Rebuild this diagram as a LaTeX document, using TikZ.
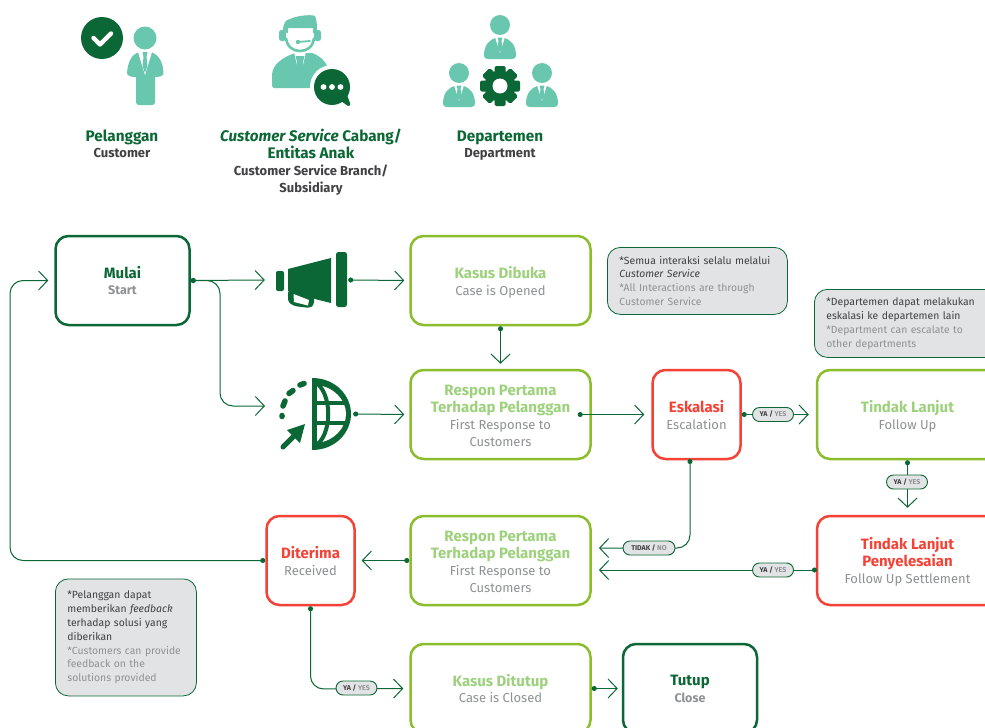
\documentclass[tikz,border=0pt]{standalone}
\usepackage{fontspec}
\setmainfont{Fira Sans}
\usetikzlibrary{arrows.meta}
\definecolor{dkgreen}{HTML}{0B6735}
\definecolor{teal}{HTML}{6AC7AF}
\definecolor{lime}{HTML}{8BBD2C}
\definecolor{limetxt}{HTML}{9DD17C}
\definecolor{redbox}{HTML}{F44336}
\definecolor{graytxt}{HTML}{8F9192}
\definecolor{notebg}{HTML}{E1E3E4}
\definecolor{inktxt}{HTML}{414042}
\newcommand{\lowby}{1.3pt}
\newcommand{\dnt}[1]{\raisebox{-\lowby}[\height][\depth]{#1}}
\newcommand{\ttl}[2]{\dnt{\fontsize{15}{17}\selectfont\bfseries\color{#1}#2}}
\newcommand{\sbt}[1]{\dnt{\fontsize{13}{17}\selectfont\color{graytxt}#1}}
\newcommand{\sbb}[1]{\dnt{\fontsize{12.5}{17}\selectfont\bfseries\color{graytxt}#1}}
\newcommand{\hdt}[1]{{\fontsize{15.3}{17}\selectfont\bfseries\color{dkgreen}#1}}
\newcommand{\hds}[1]{{\fontsize{13}{17}\selectfont\bfseries\color{inktxt}#1}}
\tikzset{
  flow/.style={draw,rounded corners=13,line width=2.5,fill=white,minimum width=#1,minimum height=89,inner sep=0,align=center,font=\fontsize{13}{17}\selectfont},
  limebox/.style={flow=#1,draw=lime},
  redflow/.style={flow=#1,draw=redbox},
  greenbox/.style={flow=#1,draw=dkgreen},
  nolow/.style={execute at begin node={\def\lowby{0pt}}},
  note/.style={draw=dkgreen,line width=0.8,fill=notebg,rounded corners=13,inner xsep=12,inner ysep=0,align=left,font=\fontsize{10.4}{13.9}\selectfont,text=inktxt},
  conn/.style={draw=dkgreen,line width=1,rounded corners=13,{Circle[length=5,width=5]}-{Straight Barb[length=9,width=19,line width=1]}},
  pill/.style={draw=dkgreen,line width=0.9,fill=notebg,rounded corners=7,minimum width=41,minimum height=14,inner sep=0,font=\fontsize{7}{8}\selectfont\bfseries},
  iconbox/.style={inner sep=0,minimum width=#1,minimum height=55},
  hdr/.style={align=center,inner sep=0,font=\fontsize{13}{17}\selectfont},
  bust/.pic={
    \fill[teal] (0,0) circle (10);
    \fill[teal] (-16,31) .. controls (-16,19) and (-10,15) .. (-5,13) -- (5,13) .. controls (10,15) and (16,19) .. (16,31) .. controls (16,33) and (14,34) .. (12,34) -- (-12,34) .. controls (-14,34) and (-16,33) .. (-16,31) -- cycle;
    \fill[white] (-5,12) -- (0,28) -- (5,12) -- cycle;
    \fill[teal] (-2.5,12.5) -- (2.5,12.5) -- (1.5,16) -- (2.5,23) -- (0,27) -- (-2.5,23) -- (-1.5,16) -- cycle;
  }
}
\newcommand{\pilltxt}[2]{{\color{inktxt}#1 /} {\color{graytxt}#2}}
\begin{document}
\begin{tikzpicture}[x=1pt,y=-1pt]
\clip (0,0) rectangle (985,728);
\fill[white] (0,0) rectangle (985,728);

% --- customer icon
\fill[dkgreen] (102,38) circle (21);
\draw[white,line width=4.4,line cap=round,line join=round] (93.5,38) -- (100,44.5) -- (111,33.5);
\fill[teal] (145,38) circle (11.5);
\fill[teal] (127,73) .. controls (128,62) and (131,55) .. (139,52) -- (151,52) .. controls (159,55) and (163,62) .. (163.5,73) .. controls (163.5,76) and (160,77) .. (155,77) -- (155,102) .. controls (155,104) and (154,105) .. (152,105) -- (139,105) .. controls (137,105) and (136,104) .. (136,102) -- (136,77) .. controls (131,77) and (127,76) .. (127,73) -- cycle;
\fill[white] (138,52) -- (145,75) -- (152,52) -- cycle;
\fill[teal] (142.5,52) -- (147.5,52) -- (146.5,57) -- (147.5,66) -- (145,73) -- (142.5,66) -- (143.5,57) -- cycle;

% --- customer service icon
\fill[teal] (272,85) -- (272,74) .. controls (273,65) and (281,58) .. (295,53) -- (312,53) .. controls (320,56) and (325,60) .. (328,68) -- (328,88) -- (274,88) .. controls (273,88) and (272,87) .. (272,85) -- cycle;
\fill[white] (294,52) -- (300,78) -- (306,52) -- cycle;
\fill[teal] (295.5,56) -- (304.5,56) -- (303,62) -- (304,74) -- (300,79) -- (296,74) -- (297,62) -- cycle;
\draw[teal,line width=2.6] (286,38) .. controls (287,47) and (293,51) .. (300,51) .. controls (307,51) and (313,47) .. (314,38);
\fill[teal] (283,32) .. controls (283,22) and (286,20) .. (290,19) .. controls (296,16) and (310,14) .. (315,16) .. controls (317,20) and (317,27) .. (317,32) -- (313,33) -- (313,28) .. controls (305,28) and (295,28) .. (288,28) -- (288,33) -- cycle;
\fill[teal,rounded corners=2.5] (279,30) rectangle (286,41);
\fill[teal,rounded corners=2.5] (314,30) rectangle (321,41);
\draw[teal,line width=1.8,line cap=round] (298,42) -- (310,41);
\fill[teal] (298,42) circle (2.2);
\fill[white] (332,87) circle (22);
\fill[dkgreen] (332,87) circle (18);
\fill[dkgreen] (341,101) -- (347,95) -- (350,103) .. controls (351,105) and (350,106) .. (348,106) -- cycle;
\fill[white] (323.5,87) circle (2.9) (332,87) circle (2.9) (340.5,87) circle (2.9);

% --- department icon
\pic at (500,25) {bust};
\pic at (459,73) {bust};
\pic at (542,73) {bust};
\fill[dkgreen] (500,86) circle (15.5);
\foreach \a in {0,45,...,315}{
  \fill[dkgreen,rounded corners=1.5,rotate around={\a:(500,86)}] (494.5,66) rectangle (505.5,76);
}
\fill[white] (500,86) circle (7.5);

% --- header labels
\node[hdr] (hcust) at (122,144) {\hdt{Pelanggan}\\[-0.5pt]\hds{Customer}};
\node[hdr] (hcs) at (311,162) {\hdt{\itshape Customer Service\upshape\ Cabang/}\\\hdt{Entitas Anak}\\\hds{Customer Service Branch/}\\\hds{Subsidiary}};
\node[hdr] (hdept) at (500,145.5) {\hdt{Departemen}\\[-0.5pt]\hds{Department}};

% --- flow boxes
\node[greenbox=134,nolow] (mulai) at (122.5,280.5) {\ttl{dkgreen}{Mulai}\\[-1pt]\sbb{Start}};
\node[limebox=180] (dibuka) at (500.5,280.5) {\ttl{limetxt}{Kasus Dibuka}\\\sbt{Case is Opened}};
\node[limebox=180] (resp1) at (500.5,414.5) {\ttl{limetxt}{Respon Pertama}\\[0.5pt]\ttl{limetxt}{Terhadap Pelanggan}\\\sbt{First Response to}\\\sbt{Customers}};
\node[redflow=88,nolow] (eskal) at (696.5,414.5) {\ttl{redbox}{Eskalasi}\\\sbt{Escalation}};
\node[limebox=181] (tindak) at (907.5,414.5) {\ttl{limetxt}{Tindak Lanjut}\\\sbt{Follow Up}};
\node[redflow=181] (settle) at (907.5,560.5) {\ttl{redbox}{Tindak Lanjut}\\[0.5pt]\ttl{redbox}{Penyelesaian}\\\sbt{Follow Up Settlement}};
\node[limebox=180] (resp2) at (500.5,560.5) {\ttl{limetxt}{Respon Pertama}\\[0.5pt]\ttl{limetxt}{Terhadap Pelanggan}\\\sbt{First Response to}\\\sbt{Customers}};
\node[redflow=88,nolow] (terima) at (310.5,560.5) {\ttl{redbox}{Diterima}\\\sbt{Received}};
\node[limebox=180,nolow] (tutupcase) at (500.5,688.5) {\ttl{limetxt}{Kasus Ditutup}\\[-0.5pt]\sbt{Case is Closed}};
\node[greenbox=134,nolow] (tutup) at (690,688.5) {\ttl{dkgreen}{Tutup}\\\sbb{Close}};

% --- notes
\node[note,anchor=north west,minimum width=180,minimum height=67,text width=156] (n1) at (607,247) {*Semua interaksi selalu melalui\\{\itshape Customer Service}\\{\color{graytxt}*All Interactions are through}\\{\color{graytxt}Customer Service}};
\node[note,anchor=north west,minimum width=186,minimum height=68,text width=162] (n2) at (814,289) {*Departemen dapat melakukan\\eskalasi ke departemen lain\\{\color{graytxt}*Department can escalate to}\\{\color{graytxt}other departments}};
\node[note,anchor=north west,minimum width=141,minimum height=117,text width=117] (n3) at (55,578.5) {*Pelanggan dapat\\memberikan {\itshape feedback}\\terhadap solusi yang\\diberikan\\{\color{graytxt}*Customers can provide}\\{\color{graytxt}feedback on the}\\{\color{graytxt}solutions provided}};

% --- megaphone icon
\node[iconbox=83] (mega) at (306.5,280) {};
\fill[dkgreen,rounded corners=2] (276,271) rectangle (284,291);
\fill[dkgreen] (288,269) -- (331,258) -- (331,303) -- (317,299.5) -- (288,291) -- cycle;
\fill[dkgreen,rounded corners=3] (288,290) -- (288,302) -- (294,306) -- (310,308) -- (314,305) -- (314,296) -- cycle;
\fill[white] (293.5,294) -- (309,300) -- (308,305.5) -- (294,302) -- cycle;
\fill[dkgreen,rounded corners=2.5] (336,252) rectangle (347,307);

% --- globe icon
\node[iconbox=88,minimum height=72] (globe) at (309,414) {};
\coordinate (globein) at (265,406);
\fill[dkgreen] (312,378) .. controls (336,378) and (351,396) .. (351,414) .. controls (351,432) and (336,450) .. (312,450) -- cycle;
\fill[white] (317,385) .. controls (334,387) and (346,400) .. (346,414) .. controls (346,428) and (334,441) .. (317,443) -- cycle;
\draw[dkgreen,line width=4] (314,381) .. controls (333,392) and (333,436) .. (314,447);
\draw[dkgreen,line width=4.5] (316,403) -- (347,403) (316,423) -- (347,423);
\draw[dkgreen,line width=5.5,line cap=round] (300,385) -- (304,383.5) (289,393.5) -- (293,390.5) (283,406) -- (285,401) (282,415.5) -- (282,416.5);
\fill[dkgreen] (305,424) -- (287,430) -- (300,443) -- cycle;
\draw[dkgreen,line width=5,line cap=round] (283,447) -- (296,434);

% --- connectors
\coordinate (r2a) at (591,548);
\coordinate (r2b) at (591,570);
\coordinate (eskdn) at (690,459);
\coordinate (setb) at (817,570);
\draw[conn] (mulai.east) -- (mega.west);
\draw[conn] (mulai.east) -- (220,280.5) -- (220,406) -- (globein);
\draw[conn,shorten >=5] (mega.east) -- (dibuka.west);
\draw[conn,shorten >=5] (globe.east) -- (resp1.west);
\draw[conn,shorten >=5] (dibuka.south) -- (resp1.north);
\draw[conn,shorten >=7] (resp1.east) ++(-14,0) -- (eskal.west);
\draw[conn,shorten >=7] (eskal.east) -- (tindak.west);
\draw[conn,shorten >=7] (tindak.south) -- (settle.north);
\draw[conn,shorten >=8] (setb) -- (r2b);
\draw[conn,shorten >=8] (eskdn) -- (690,548) -- (r2a);
\draw[conn,shorten >=6] (resp2.west) -- (terima.east);
\draw[conn,shorten >=6] (terima.west) -- (10,560.5) -- (10,280.5) -- (mulai.west);
\draw[conn,shorten >=6] (terima.south) -- (310.5,689) -- (tutupcase.west);
\draw[conn,shorten >=4] (tutupcase.east) -- (tutup.west);

% --- pills
\node[pill] (p1) at (773,414.5) {\pilltxt{YA}{YES}};
\node[pill] (p2) at (907,482) {\pilltxt{YA}{YES}};
\node[pill] (p3) at (773,570) {\pilltxt{YA}{YES}};
\node[pill,minimum width=52] (p4) at (649,548) {\pilltxt{TIDAK}{NO}};
\node[pill] (p5) at (356.5,688) {\pilltxt{YA}{YES}};
\end{tikzpicture}
\end{document}
